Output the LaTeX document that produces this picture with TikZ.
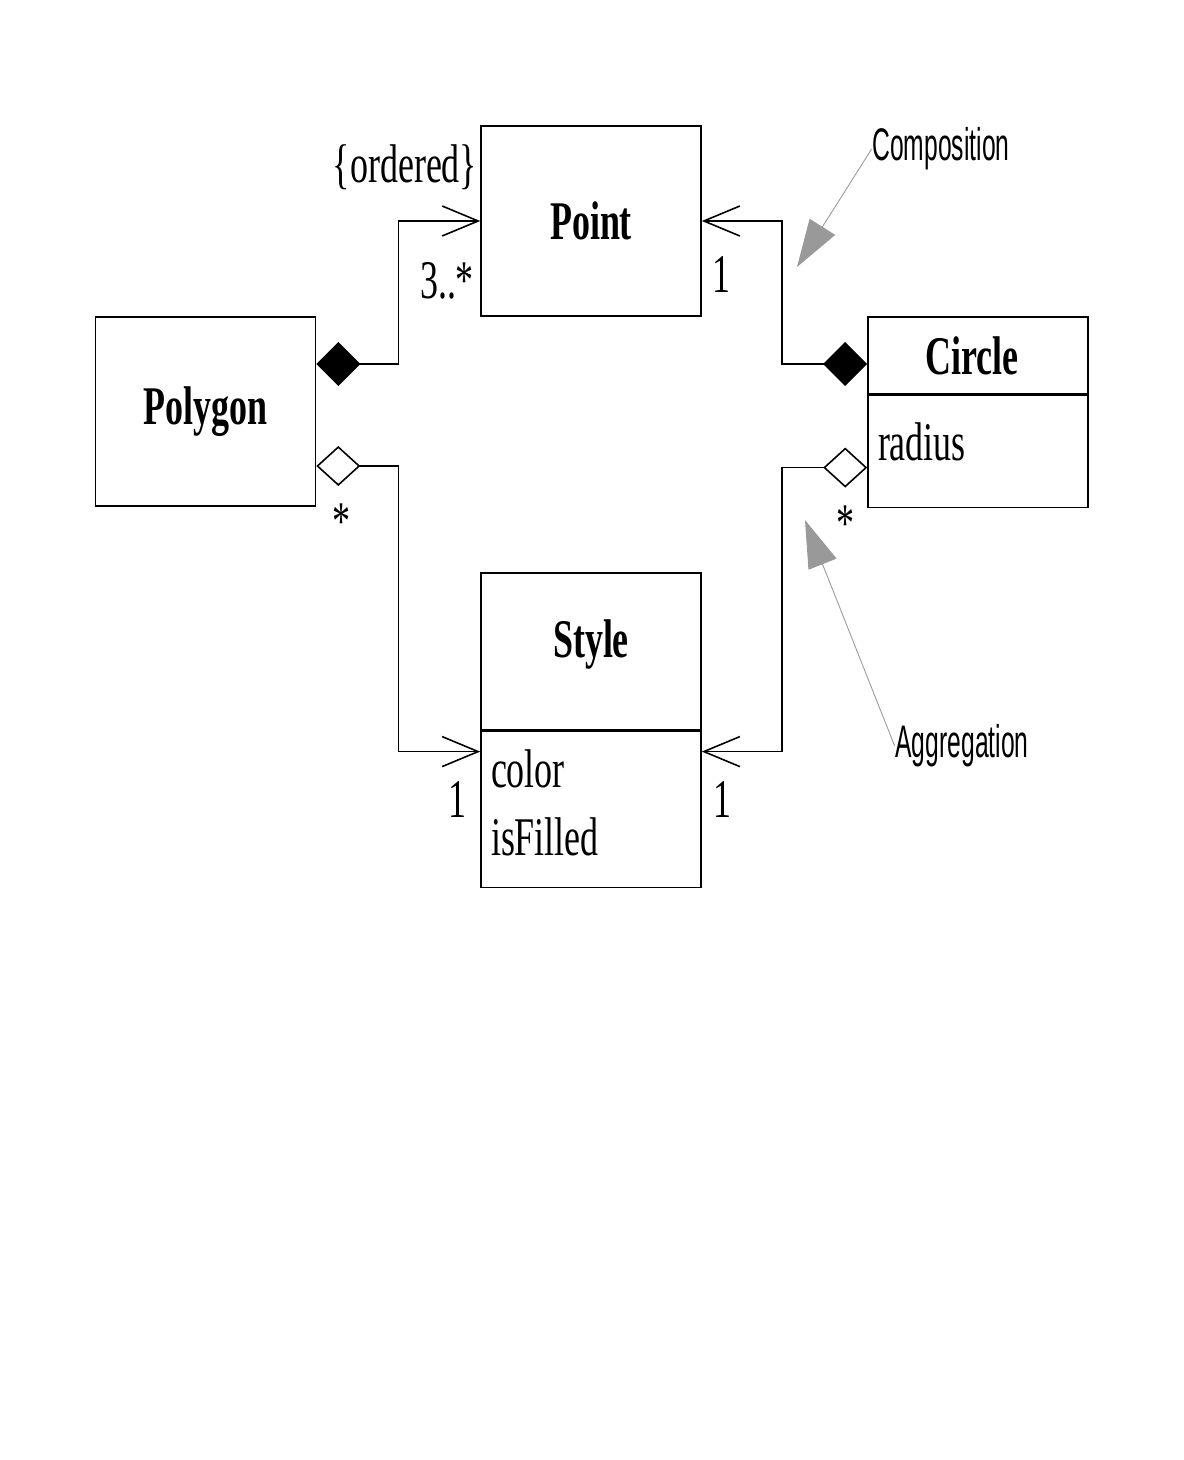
\documentclass[tikz,border=0pt]{standalone}
\usepackage{fontspec}
\setmainfont[FakeStretch=0.66]{Liberation Serif}
\newfontfamily\notefont[FakeStretch=0.54]{Liberation Sans}
\usetikzlibrary{positioning,arrows.meta,calc}

\begin{document}
\begin{tikzpicture}[
  x=0.2mm, y=-0.2mm,
  line width=0.9pt,
  font=\fontsize{31}{38.6}\selectfont,
  box/.style={draw, minimum width=44mm, inner sep=0pt, align=center},
  cname/.style={box, font=\fontsize{31}{38.6}\selectfont\bfseries},
  attr/.style={box, text width=40mm, align=left},
  lab/.style={inner sep=0pt},
  note/.style={inner sep=0pt, font=\fontsize{26}{30}\selectfont\notefont},
  comp/.style={{Diamond[length=8.8mm,width=8.8mm]}-{Straight Barb[length=7.2mm,width=6mm]}},
  aggr/.style={{Diamond[open,length=8.8mm,width=8mm]}-{Straight Barb[length=7.2mm,width=6mm]}},
  hint/.style={draw=black!40, line width=0.5pt, -{Triangle[length=9.5mm,width=6mm]}}
]
\useasboundingbox (0,0) rectangle (1184,1460);

% classes
\node[cname, minimum height=38mm] (point) at (591,221) {Point};
\node[cname, minimum height=37.8mm] (poly) at (205.5,411.5) {Polygon};
\node[cname, minimum height=15.4mm] (circ) at (978,355.5) {\hspace*{-2.4mm}Circle};
\node[attr, minimum height=22.4mm, text depth=11.4pt, below=0pt of circ] (circattr) {radius};
\node[cname, minimum height=31.4mm, text depth=14.7pt] (style) at (591,651.5) {Style};
\node[attr, minimum height=31.2mm, text depth=46.6pt, below=0pt of style] (styleattr) {color\\isFilled};

% associations
\draw[comp] ([yshift=9.5mm]poly.east) -- ++(82,0) |- (point.west);
\draw[comp] ([yshift=-1.7mm]circ.west) -- ++(-85,0) |- (point.east);
\draw[aggr] ([yshift=-10.9mm]poly.east) -- ++(82,0) |- ([yshift=11.6mm]styleattr.west);
\draw[aggr] ([yshift=-3.2mm]circattr.west) -- ++(-85,0) |- ([yshift=11.6mm]styleattr.east);

% multiplicities
\node[lab, anchor=east] (ordered) at (478,167) {\{ordered\}};
\node[lab] (mpolypt) at (447,281) {3..*};
\node[lab] (mcircpt) at (721,275) {1};
\node[lab] (mpolyst) at (341,522) {*};
\node[lab] (mcircst) at (845,524) {*};
\node[lab] (mstylel) at (457,800) {1};
\node[lab] (mstyler) at (722,800) {1};

% notes
\node[note] (compnote) at (941,149) {Composition};
\node[note] (aggrnote) at (962,746) {Aggregation};
\coordinate (comptip) at (797,267);
\coordinate (aggrtip) at (805,520);
\draw[hint] (compnote.west) -- (comptip);
\draw[hint] (aggrnote.west) -- (aggrtip);

\end{tikzpicture}
\end{document}
